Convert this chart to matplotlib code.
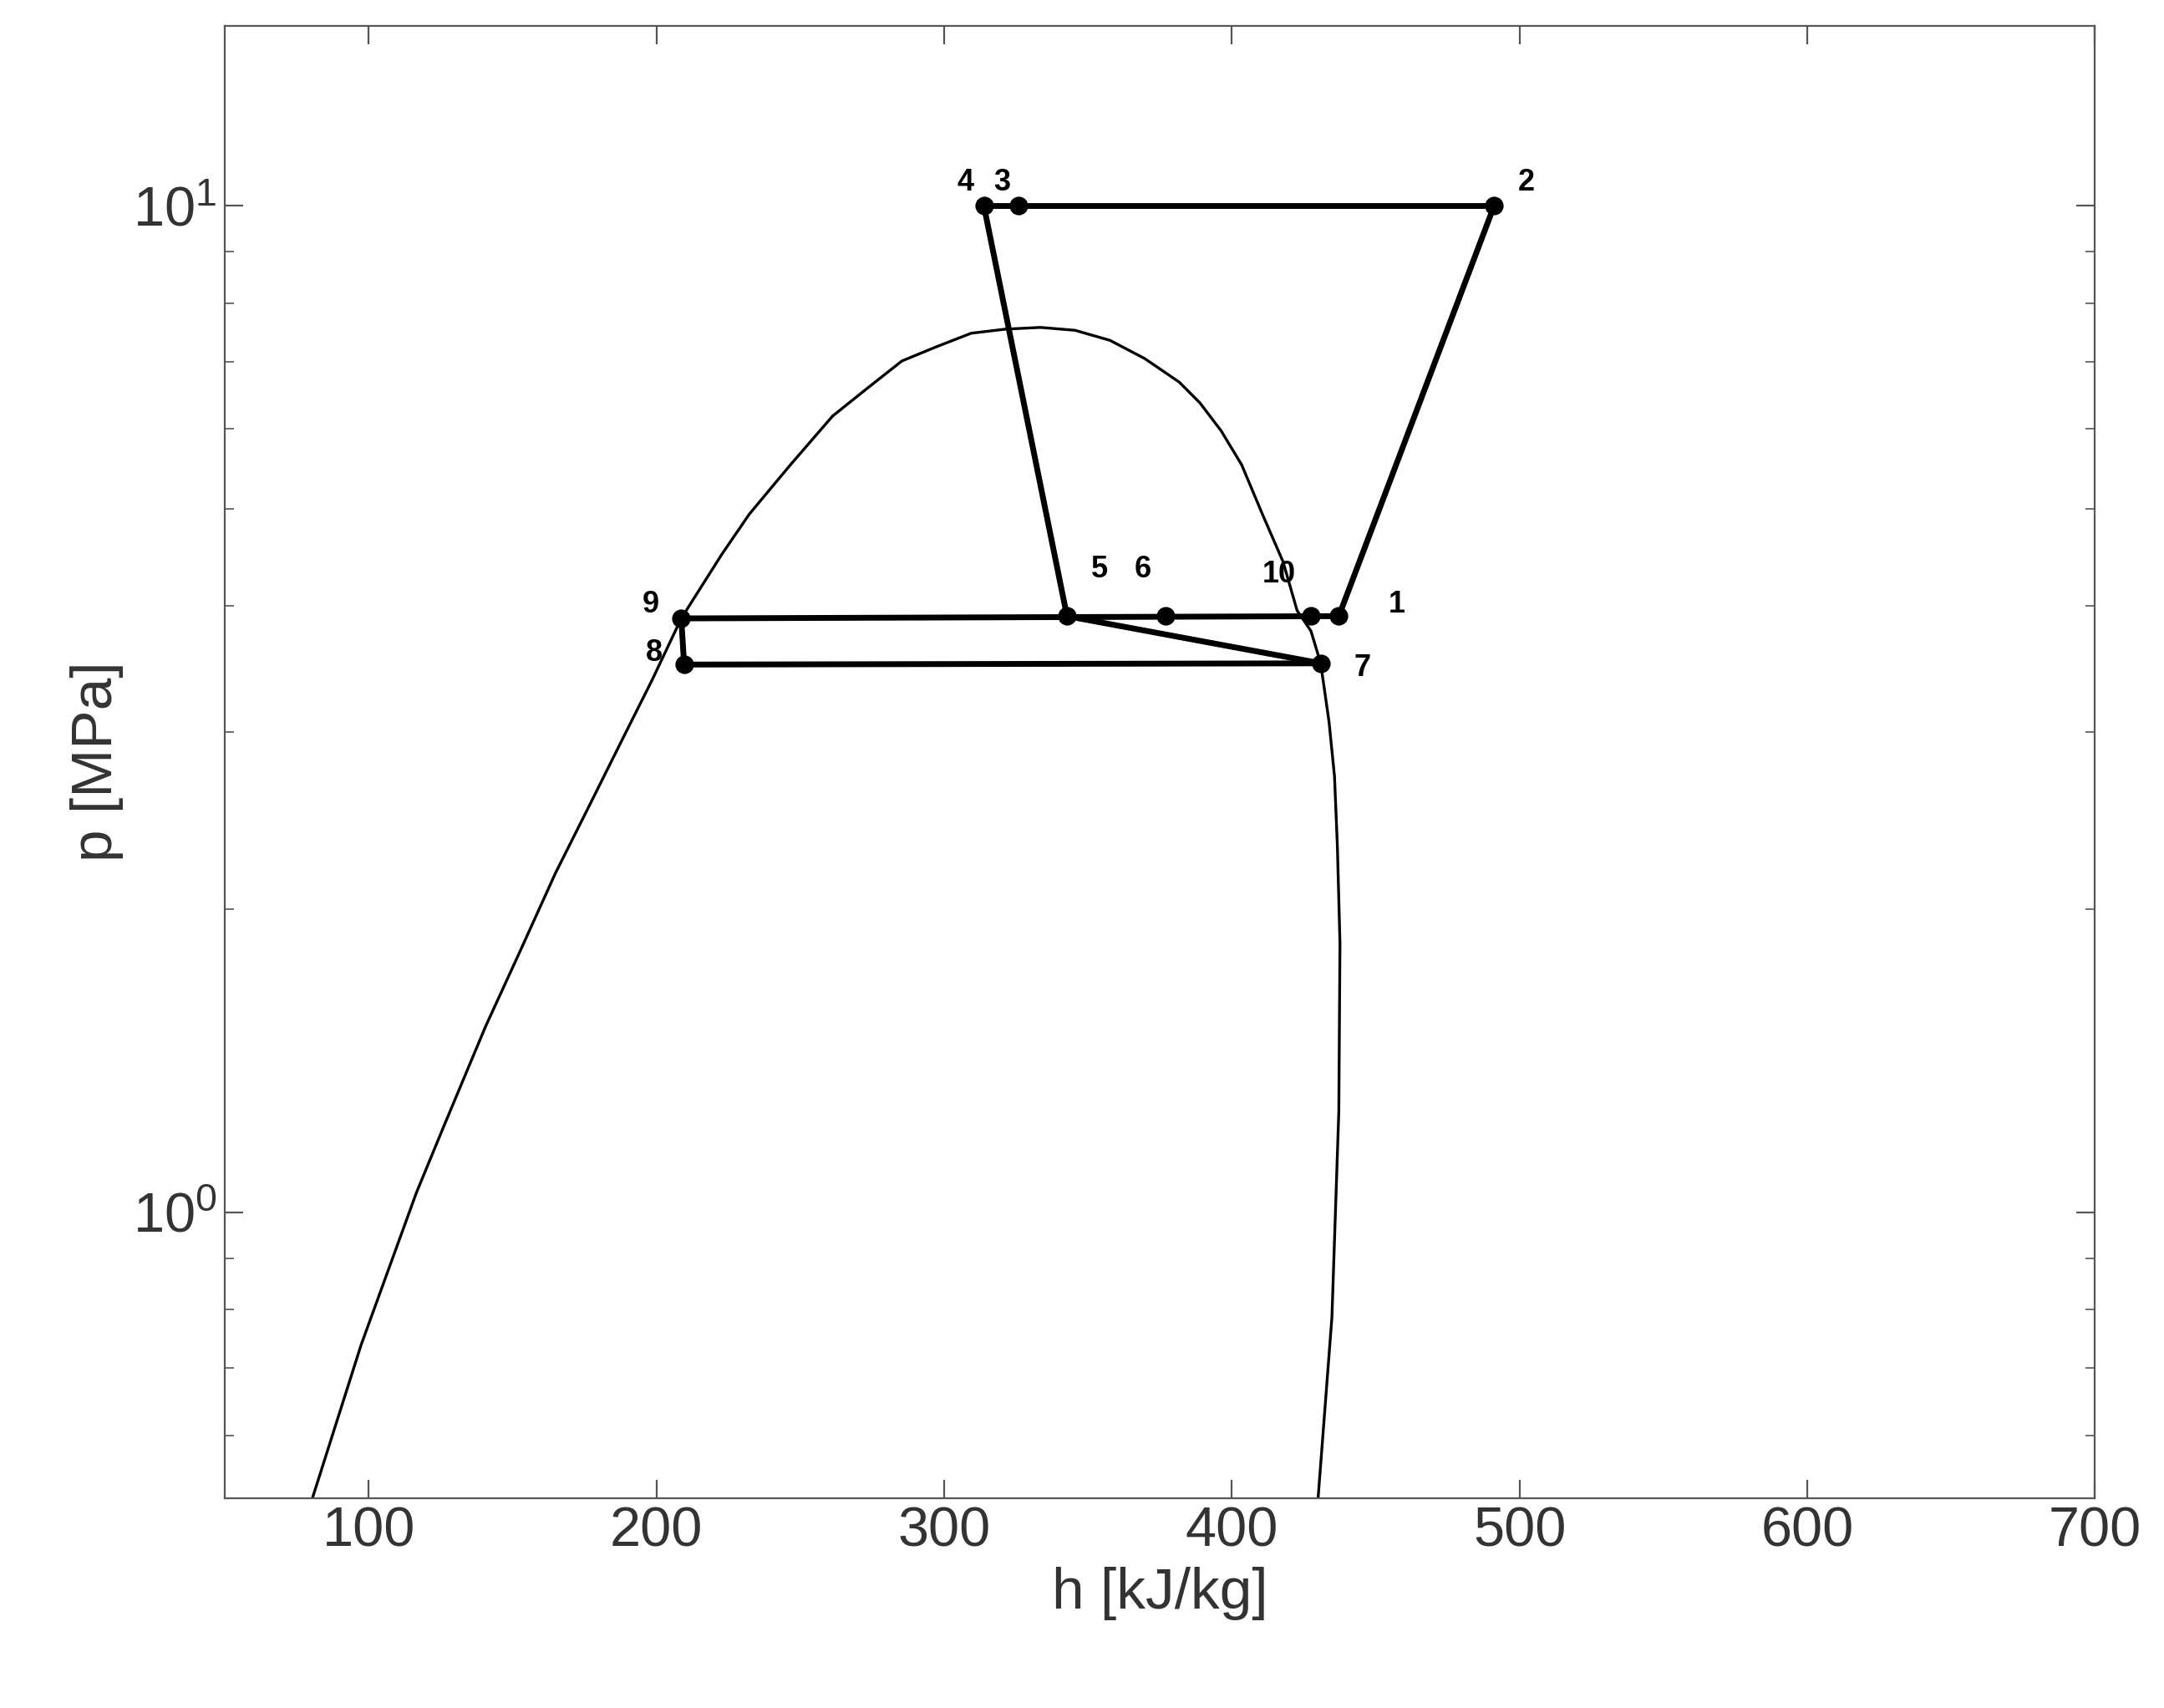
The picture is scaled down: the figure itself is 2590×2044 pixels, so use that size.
import matplotlib.pyplot as plt

# saturation dome
dome_h = [80.4, 97.3, 116.5, 126.2, 140.6, 152.7, 164.8, 176.8, 188.9, 198.5, 208.6, 222.6,
          232.3, 246.6, 261.2, 273.1, 285.3, 297.2, 309.4, 321.3, 333.5, 345.5, 357.6, 369.7,
          381.7, 388.9, 396.2, 403.4, 410.6, 417.8, 422.7, 427.5, 430.9, 433.8, 435.7, 436.7,
          437.6, 437.2, 434.8, 430.0]
dome_p = [0.52, 0.738, 1.045, 1.22, 1.53, 1.82, 2.17, 2.54, 2.98, 3.38, 3.89, 4.50,
          4.94, 5.53, 6.18, 6.58, 7.01, 7.24, 7.47, 7.54, 7.57, 7.52, 7.35, 7.05,
          6.68, 6.37, 5.98, 5.53, 4.94, 4.43, 3.96, 3.78, 3.51, 3.07, 2.71, 2.31,
          1.85, 1.26, 0.786, 0.52]

# cycle state points
labels = ['1', '2', '3', '4', '5', '6', '7', '8', '9', '10']
h_pts = [437.2, 491.2, 325.8, 313.8, 342.7, 377.0, 431.0, 209.6, 208.6, 427.6]
p_pts = [3.91, 10.0, 10.0, 10.0, 3.91, 3.91, 3.51, 3.50, 3.89, 3.91]
offsets = {'1': (25, 5), '2': (14, 10), '3': (-7, 10), '4': (-8, 10), '5': (14, 20),
           '6': (-10, 20), '7': (18, -2), '8': (-13, 5), '9': (-13, 6), '10': (-14, 18)}
segments = [('4', '2'), ('2', '1'), ('9', '1'), ('4', '5'), ('5', '7'), ('8', '7'), ('9', '8')]

plt.rcParams['font.family'] = ['Liberation Sans', 'DejaVu Sans']
fig = plt.figure(figsize=(12.95, 10.22), dpi=200)
ax = fig.add_axes([0.104, 0.123, 0.864, 0.862])

ax.plot(dome_h, dome_p, color='black', lw=1.2)
idx = {l: i for i, l in enumerate(labels)}
for a, b in segments:
    ax.plot([h_pts[idx[a]], h_pts[idx[b]]], [p_pts[idx[a]], p_pts[idx[b]]], color='black', lw=2.5)
ax.plot(h_pts, p_pts, 'o', color='black', ms=7)
for l, h, p in zip(labels, h_pts, p_pts):
    ax.annotate(l, (h, p), xytext=offsets[l], textcoords='offset points',
                ha='center', va='center', fontsize=13, fontweight='bold')

ax.set_yscale('log')
ax.set_xlim(50, 700)
ax.set_ylim(0.52, 15.1)
ax.set_xticks(range(100, 701, 100))
ax.tick_params(which='both', direction='in', top=True, right=True, labelsize=24,
               labelcolor='#333333', color='#555555')
ax.tick_params(which='major', length=8)
ax.tick_params(which='minor', length=4)
for s in ax.spines.values():
    s.set_color('#555555')
ax.set_xlabel('h [kJ/kg]', fontsize=25, color='#333333')
ax.set_ylabel('p [MPa]', fontsize=25, color='#333333')

fig.savefig('out.png')
